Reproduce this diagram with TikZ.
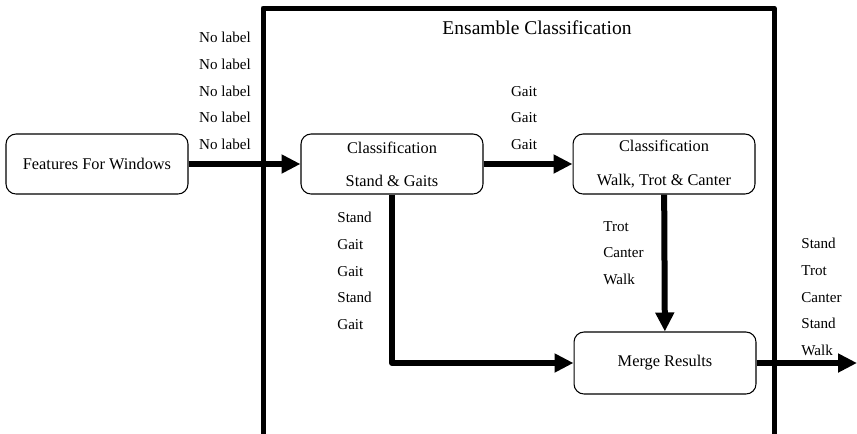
\documentclass[tikz,border=0pt]{standalone}
\usepackage{fontspec}
\setmainfont{Liberation Serif}
\usetikzlibrary{arrows.meta}
\begin{document}
\begin{tikzpicture}[x=0.02cm,y=-0.02cm,line join=round,>={Triangle[length=0.38cm,width=0.36cm]}]
            \tikzset{block/.style={draw,rounded corners=0.2cm,line width=0.6pt,minimum width=3.64cm,minimum height=1.2cm,align=center,font=\fontsize{9.3}{18.8}\selectfont},
                flow/.style={->,line width=0.12cm},
                tags/.style={inner sep=0pt,font=\fontsize{8.6}{15.2}\selectfont}}
            \useasboundingbox (0,0) rectangle (857,433);
            \clip (0,0) rectangle (857,433);
            % outer frame, open at the bottom
            \draw[line width=0.1cm] (263,440) -- (263,8) -- (774,8) -- (774,440);
            \node[font=\fontsize{11.1}{13}\selectfont] (title) at (537,28) {Ensamble Classification};
            % blocks
            \node[block] (feat) at (97,164) {Features For Windows};
            \node[block] (cls1) at (392,164) {Classification\\Stand \& Gaits};
            \node[block] (cls2) at (664,164) {Classification\\Walk, Trot \& Canter};
            \node[block,minimum height=1.24cm] (merge) at (665,363) {Merge Results};
            \coordinate (out) at (857,363);
            % connectors
            \draw[flow] (feat) -- (cls1);
            \draw[flow] (cls1) -- (cls2);
            \draw[flow] (cls2) -- (merge);
            \draw[flow] (cls1.south) |- (merge.west);
            \draw[flow] (merge) -- (out);
            % labels
            \node[tags,align=center] (nolab) at (225,91) {No label\\No label\\No label\\No label\\No label};
            \node[tags,align=center] (gaits) at (524,118) {Gait\\Gait\\Gait};
            \node[tags,align=left,anchor=west] (first) at (337,271) {Stand\\Gait\\Gait\\Stand\\Gait};
            \node[tags,align=left,anchor=west] (second) at (603,253) {Trot\\Canter\\Walk};
            \node[tags,align=left,anchor=west] (result) at (801,297) {Stand\\Trot\\Canter\\Stand\\Walk};
        \end{tikzpicture}
\end{document}
